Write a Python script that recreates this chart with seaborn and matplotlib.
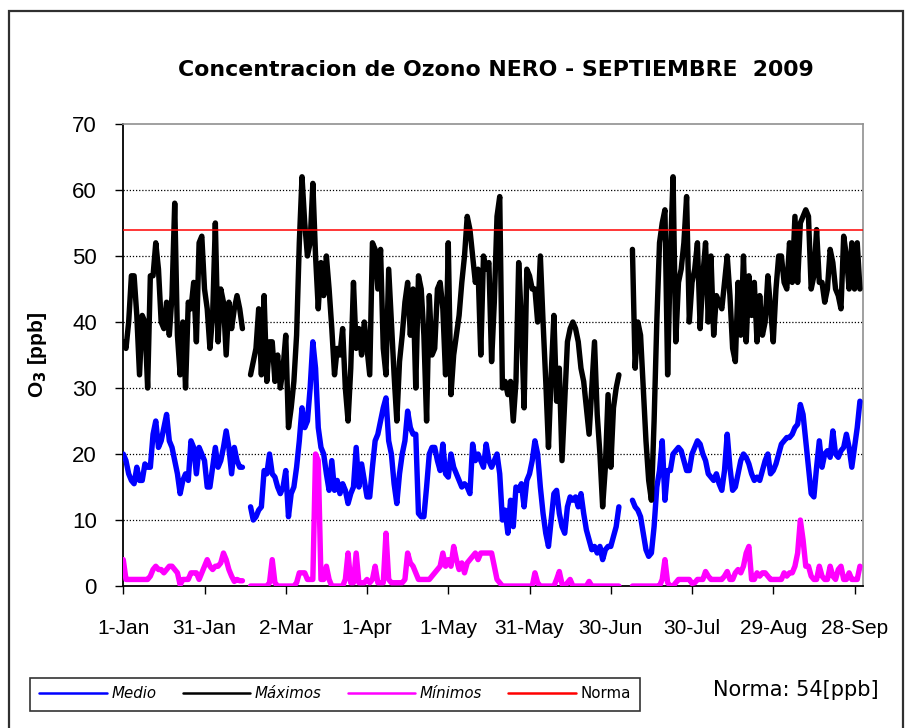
import numpy as np
import pandas as pd
import matplotlib
matplotlib.use("Agg")
import matplotlib.pyplot as plt
from matplotlib.lines import Line2D
from matplotlib.patches import Rectangle
import seaborn as sns

nan = np.nan

# datos diarios 1-Jan .. 30-Sep 2009 (ppb)
media = [
    20, 19, 17, 16, 15.5, 18, 16, 16, 18.5, 18,
    18, 23, 25, 21, 22, 24, 26, 22, 21, 19,
    17, 14, 16, 17, 16, 22, 21, 17, 21, 20,
    19, 15, 15, 18, 21, 18, 19, 21, 23.5, 21,
    17, 21, 19, 18, 18, nan, nan, 12, 10, 10.5,
    11.5, 12, 17.5, 17, 20, 17, 16.5, 15, 14, 15,
    17.5, 10.5, 14, 15, 18, 22, 27, 24, 25, 30,
    37, 33, 24, 21, 20, 17, 14.5, 19, 14.5, 16,
    14, 15.5, 14.5, 12.5, 14, 15, 21, 15, 18.5, 16,
    13.5, 13.5, 18, 22, 23, 25, 27, 28.5, 22, 20,
    15.5, 12.5, 17, 20, 22, 26.5, 24, 23, 23, 11,
    10.5, 10.5, 15, 20, 21, 21, 19, 17.5, 21.5, 17,
    16.5, 20, 18, 17, 16, 15, 15.5, 15, 14, 21.5,
    19, 20, 19, 18, 21.5, 19, 18, 19, 20, 17,
    10, 11.5, 8, 13, 9, 15, 14.5, 15.5, 12, 16,
    17, 19, 22, 20, 15, 11, 8, 6, 10, 14,
    14.5, 11, 9, 8, 12, 13.5, 13, 13.5, 12, 14,
    11, 8.5, 7, 5.5, 6, 5, 6, 4, 5.5, 6,
    6, 7.5, 9, 12, nan, nan, nan, nan, 13, 12,
    11.5, 10.5, 8, 5.5, 4.5, 5, 9, 15, 17.5, 22,
    13, 17.5, 17.5, 20, 20.5, 21, 20.5, 19, 17.5, 17.5,
    20, 21, 22, 21.5, 20, 19, 17, 16.5, 16, 17,
    15.5, 14.5, 17.5, 23, 18, 14.5, 15, 17, 19, 20,
    19.5, 18.5, 17, 16, 16.5, 16, 17.5, 19, 20, 17,
    17.5, 18.5, 20, 21.5, 22, 22.5, 22.5, 23, 24, 24.5,
    27.5, 26, 22, 18, 14, 13.5, 18, 22, 18, 20,
    20.5, 19.5, 23.5, 20, 19.5, 20.5, 21, 23, 21, 18,
    21, 24, 28,
]

maximos = [
    37, 36, 40, 47, 47, 41, 32, 41, 40, 30,
    47, 47, 52, 48, 40, 39, 43, 38, 44, 58,
    38, 32, 40, 30, 43, 42, 46, 37, 52, 53,
    45, 42, 36, 41, 55, 37, 45, 43, 35, 43,
    39, 42, 44, 42, 39, nan, nan, 32, 34, 36,
    42, 32, 44, 31, 37, 37, 31, 35, 30, 33,
    38, 24, 27, 31, 38, 52, 62, 55, 50, 52,
    61, 50, 42, 49, 44, 50, 45, 39, 32, 36,
    35, 39, 30, 25, 33, 46, 36, 39, 35, 40,
    36, 32, 52, 51, 45, 51, 36, 32, 48, 40,
    32, 25, 34, 38, 43, 46, 38, 45, 30, 47,
    45, 38, 25, 44, 35, 36, 45, 46, 42, 32,
    52, 29, 35, 38, 41, 46, 50, 56, 54, 50,
    46, 48, 35, 50, 48, 49, 34, 43, 56, 59,
    30, 31, 29, 31, 25, 31, 49, 40, 27, 48,
    47, 45, 45, 40, 50, 40, 31, 21, 32, 41,
    28, 33, 19, 28, 37, 39, 40, 39, 37, 33,
    31, 27, 23, 30, 37, 26, 20, 12, 18, 29,
    18, 27, 30, 32, nan, nan, nan, nan, 51, 33,
    40, 38, 30, 22, 16, 13, 25, 40, 52, 55,
    57, 32, 50, 62, 37, 46, 48, 52, 59, 40,
    46, 48, 52, 39, 47, 52, 40, 50, 38, 44,
    43, 42, 46, 50, 44, 36, 34, 46, 38, 50,
    37, 47, 41, 46, 37, 44, 38, 40, 47, 42,
    37, 45, 50, 50, 46, 45, 52, 46, 56, 46,
    55, 56, 57, 56, 45, 47, 54, 46, 46, 43,
    45, 51, 49, 45, 44, 42, 53, 50, 45, 52,
    45, 52, 45,
]

minimos = [
    4, 1, 1, 1, 1, 1, 1, 1, 1, 1,
    1.5, 2.5, 3, 2.5, 2.5, 2, 2.5, 3, 3, 2.5,
    2, 0.2, 1, 1, 1, 2, 2, 2, 1, 2,
    3, 4, 3, 2.5, 3, 3, 3.5, 5, 4, 2.5,
    1.5, 0.7, 1, 0.8, 0.8, nan, nan, 0, 0, 0,
    0, 0, 0, 0, 0.5, 4, 0.5, 0, 0, 0,
    0, 0, 0, 0, 0.5, 2, 2, 2, 1, 1,
    1, 20, 19, 1, 1, 3, 1, 0, 0, 0,
    0, 0, 1, 5, 0.5, 0.5, 5, 0.5, 0.5, 0.5,
    1, 0.5, 1, 3, 0.5, 0.5, 0.5, 8, 1, 0.5,
    0.5, 0.5, 0.5, 0.5, 1, 5, 3.5, 3, 2, 1,
    1, 1, 1, 1, 1.5, 2, 2.5, 3, 5, 3,
    4, 3, 6, 4, 2.5, 3.5, 2, 3.5, 4, 4.5,
    5, 4, 5, 5, 5, 5, 5, 3, 1, 0.5,
    0, 0, 0, 0, 0, 0, 0, 0, 0, 0,
    0, 0, 2, 0.5, 0, 0, 0, 0, 0, 0,
    1, 2.2, 0.3, 0, 0.5, 1, 0, 0, 0, 0,
    0, 0, 0.7, 0, 0, 0, 0, 0, 0, 0,
    0, 0, 0, 0, nan, nan, nan, nan, 0, 0,
    0, 0, 0, 0, 0, 0, 0, 0, 0, 1,
    4, 0.5, 0, 0, 0.5, 1, 1, 1, 1, 1,
    0.4, 0.5, 1, 1, 1, 2.2, 1.5, 1, 1, 1,
    1, 1, 1.5, 2.2, 1, 1, 2, 2.5, 2, 3,
    5, 6, 1, 1, 2, 1.5, 2, 2, 1.5, 1,
    1, 1, 1, 1, 2, 1.5, 2, 2, 3, 5,
    10, 7, 3, 3, 1.5, 1, 1, 3, 1.5, 1,
    1, 3, 1.5, 1, 2.5, 3, 1, 1, 2, 1,
    1, 1, 3,
]

NORMA = 54
series = ["Medio", "Máximos", "Mínimos"]
colores = {"Medio": "#0000FF", "Máximos": "#000000", "Mínimos": "#FF00FF"}
tick_labels = ["1-Jan", "31-Jan", "2-Mar", "1-Apr", "1-May", "31-May",
               "30-Jun", "30-Jul", "29-Aug", "28-Sep"]

fechas = pd.date_range("2009-01-01", periods=len(media), freq="D")

# tabla larga, un "tramo" por cada trozo continuo (huecos sin datos)
frames = []
for nombre, vals in zip(series, [media, maximos, minimos]):
    v = np.array(vals, dtype=float)
    tramo = np.cumsum(np.isnan(v))
    frames.append(pd.DataFrame({"fecha": fechas, "o3": v, "serie": nombre, "tramo": tramo}))
df = pd.concat(frames).dropna()

sns.set_style("white")
plt.rcParams["font.family"] = ["Liberation Sans", "DejaVu Sans"]
plt.rcParams["text.color"] = "black"

fig = plt.figure(figsize=(9.09, 7.28), dpi=100)
ax = fig.add_axes([0.1356, 0.195, 0.8134, 0.6347])

for v in range(10, 70, 10):
    ax.axhline(v, color="black", linestyle=(0, (1, 1.5)), linewidth=0.9, zorder=0)

sns.lineplot(data=df, x="fecha", y="o3", hue="serie", units="tramo", estimator=None,
             palette=colores, linewidth=3.9, legend=False, ax=ax, zorder=3)
ax.axhline(NORMA, color="#FF0000", linewidth=1.1, zorder=4)

ax.set_ylim(0, 70)
ax.set_xlim(fechas[0], fechas[0] + pd.Timedelta(days=273))
ax.set_yticks(range(0, 71, 10))
ax.set_xticks(fechas[::30])
ax.set_xticklabels(tick_labels)
ax.set_xlabel("")
ax.set_ylabel("")
ax.tick_params(axis="y", direction="out", length=6, width=1, pad=13, labelsize=16,
               left=True, colors="black")
ax.tick_params(axis="x", direction="out", length=6, width=1, pad=18, labelsize=15,
               bottom=True, colors="black")

for lado in ["left", "bottom"]:
    ax.spines[lado].set_color("black")
    ax.spines[lado].set_linewidth(1.3)
for lado in ["top", "right"]:
    ax.spines[lado].set_color("#909090")
    ax.spines[lado].set_linewidth(1.2)

fig.text(0.546, 0.904, "Concentracion de Ozono NERO - SEPTIEMBRE  2009",
         ha="center", va="center", fontsize=15.8, fontweight="bold",
         color="black", family=["DejaVu Sans"])
fig.text(0.041, 0.512, r"O$_\mathbf{3}$ [ppb]", rotation=90, ha="center", va="center",
         fontsize=15, fontweight="bold", color="black")

handles = [Line2D([], [], color=colores[s], linewidth=1.8) for s in series]
handles.append(Line2D([], [], color="#FF0000", linewidth=1.8))
leg = fig.legend(handles, series + ["Norma"], loc="center", ncol=4,
                 bbox_to_anchor=(335 / 909, 1 - 694 / 728), frameon=True,
                 fancybox=False, edgecolor="black", handlelength=4.5,
                 columnspacing=1.75, handletextpad=0.3, borderpad=0.6,
                 prop={"family": "DejaVu Sans", "size": 10.8, "style": "italic"})
leg.get_frame().set_linewidth(1.2)
leg.get_texts()[-1].set_style("normal")

fig.text(0.875, 0.052, "Norma: 54[ppb]", ha="center", va="center", fontsize=15,
         color="black", family=["DejaVu Sans"])

fig.add_artist(Rectangle((9 / 909, -0.02), (903 - 9) / 909, 1.02 - 11 / 728,
                         transform=fig.transFigure, fill=False,
                         edgecolor="#303030", linewidth=1.6))

fig.savefig("out.png", dpi=100)
